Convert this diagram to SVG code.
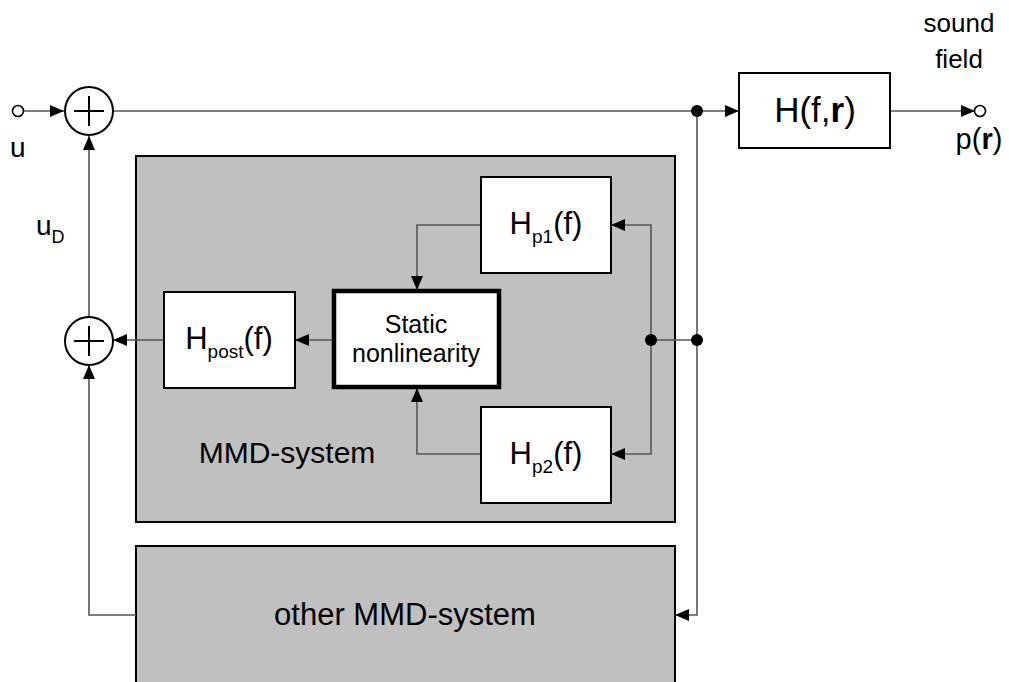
<svg xmlns="http://www.w3.org/2000/svg" width="1009" height="682" viewBox="0 0 1009 682">
<style>
text{font-family:"Liberation Sans",Arial,sans-serif;fill:#000}
.blk{fill:#fff;stroke:#000;stroke-width:2}
.grp{fill:#c0c0c0;stroke:#000;stroke-width:2}
.sum{fill:#fff;stroke:#000;stroke-width:2}
.plus{stroke:#000;stroke-width:2}
.con{fill:none;stroke:#555;stroke-width:1.6}
.conA{fill:none;stroke:#555;stroke-width:1.6;marker-end:url(#ah)}
.dot{fill:#000}
</style>
<defs>
<marker id="ah" markerUnits="userSpaceOnUse" markerWidth="14" markerHeight="12" refX="14" refY="6" orient="auto">
<path d="M0,0 L14,6 L0,12 z" fill="#000"/>
</marker>
</defs>
<rect width="1009" height="682" fill="#fff"/>

<g id="mmd-system">
<rect class="grp" x="136" y="156" width="539" height="366"/>
<text x="287" y="463" font-size="30" text-anchor="middle">MMD-system</text>
</g>
<g id="other-mmd-system">
<rect class="grp" x="136" y="546" width="539" height="150"/>
<text x="405" y="625" font-size="31" text-anchor="middle">other MMD-system</text>
</g>

<g id="connectors">
<circle cx="18" cy="111" r="5.5" fill="#fff" stroke="#000" stroke-width="1.6"/>
<line class="conA" x1="24" y1="111" x2="64" y2="111"/>
<line class="conA" x1="113" y1="111" x2="739" y2="111"/>
<line class="conA" x1="890" y1="111" x2="975" y2="111"/>
<circle cx="980" cy="111" r="5.5" fill="#fff" stroke="#000" stroke-width="1.6"/>
<polyline class="conA" points="697,111 697,615 675,615"/>
<line class="con" x1="651" y1="340" x2="697" y2="340"/>
<polyline class="conA" points="651,340 651,225 611,225"/>
<polyline class="conA" points="651,340 651,454 611,454"/>
<polyline class="conA" points="481,225 417,225 417,290"/>
<polyline class="conA" points="481,454 417,454 417,388"/>
<line class="conA" x1="333" y1="340" x2="295" y2="340"/>
<line class="conA" x1="164" y1="340" x2="113" y2="340"/>
<line class="conA" x1="89" y1="316" x2="89" y2="136"/>
<polyline class="conA" points="136,615 89,615 89,365"/>
<circle class="dot" cx="697" cy="111" r="6"/>
<circle class="dot" cx="697" cy="340" r="6"/>
<circle class="dot" cx="651" cy="340" r="6"/>
</g>

<g id="sum1">
<circle class="sum" cx="89" cy="111" r="24"/>
<line class="plus" x1="74" y1="111" x2="104" y2="111"/>
<line class="plus" x1="89" y1="96" x2="89" y2="126"/>
</g>
<g id="sum2">
<circle class="sum" cx="89" cy="341" r="24"/>
<line class="plus" x1="74" y1="341" x2="104" y2="341"/>
<line class="plus" x1="89" y1="326" x2="89" y2="356"/>
</g>

<g id="H-room">
<rect class="blk" x="739" y="73" width="151" height="75"/>
<text x="815" y="122" font-size="35" text-anchor="middle">H(f,<tspan font-weight="bold">r</tspan>)</text>
</g>

<g id="Hp1">
<rect class="blk" x="481" y="177" width="130" height="96"/>
<text x="546" y="234" font-size="31" text-anchor="middle">H<tspan font-size="19" dy="9">p1</tspan><tspan dy="-9">(f)</tspan></text>
</g>
<g id="Hp2">
<rect class="blk" x="481" y="407" width="130" height="96"/>
<text x="546" y="464" font-size="31" text-anchor="middle">H<tspan font-size="19" dy="9">p2</tspan><tspan dy="-9">(f)</tspan></text>
</g>
<g id="static-nonlinearity">
<rect x="334" y="291" width="165" height="96" fill="#fff" stroke="#000" stroke-width="4.5"/>
<text x="416" y="333" font-size="25" text-anchor="middle">Static</text>
<text x="416" y="362" font-size="25" text-anchor="middle">nonlinearity</text>
</g>
<g id="Hpost">
<rect class="blk" x="164" y="292" width="131" height="96"/>
<text x="229" y="349" font-size="31" text-anchor="middle">H<tspan font-size="19" dy="9">post</tspan><tspan dy="-9">(f)</tspan></text>
</g>

<g id="labels">
<text x="10" y="157" font-size="28">u</text>
<text x="36" y="235" font-size="28">u<tspan font-size="18" dy="8">D</tspan></text>
<text x="959" y="32" font-size="26" text-anchor="middle">sound</text>
<text x="959" y="68" font-size="26" text-anchor="middle">field</text>
<text x="979" y="149" font-size="29" text-anchor="middle">p(<tspan font-weight="bold">r</tspan>)</text>
</g>
</svg>
